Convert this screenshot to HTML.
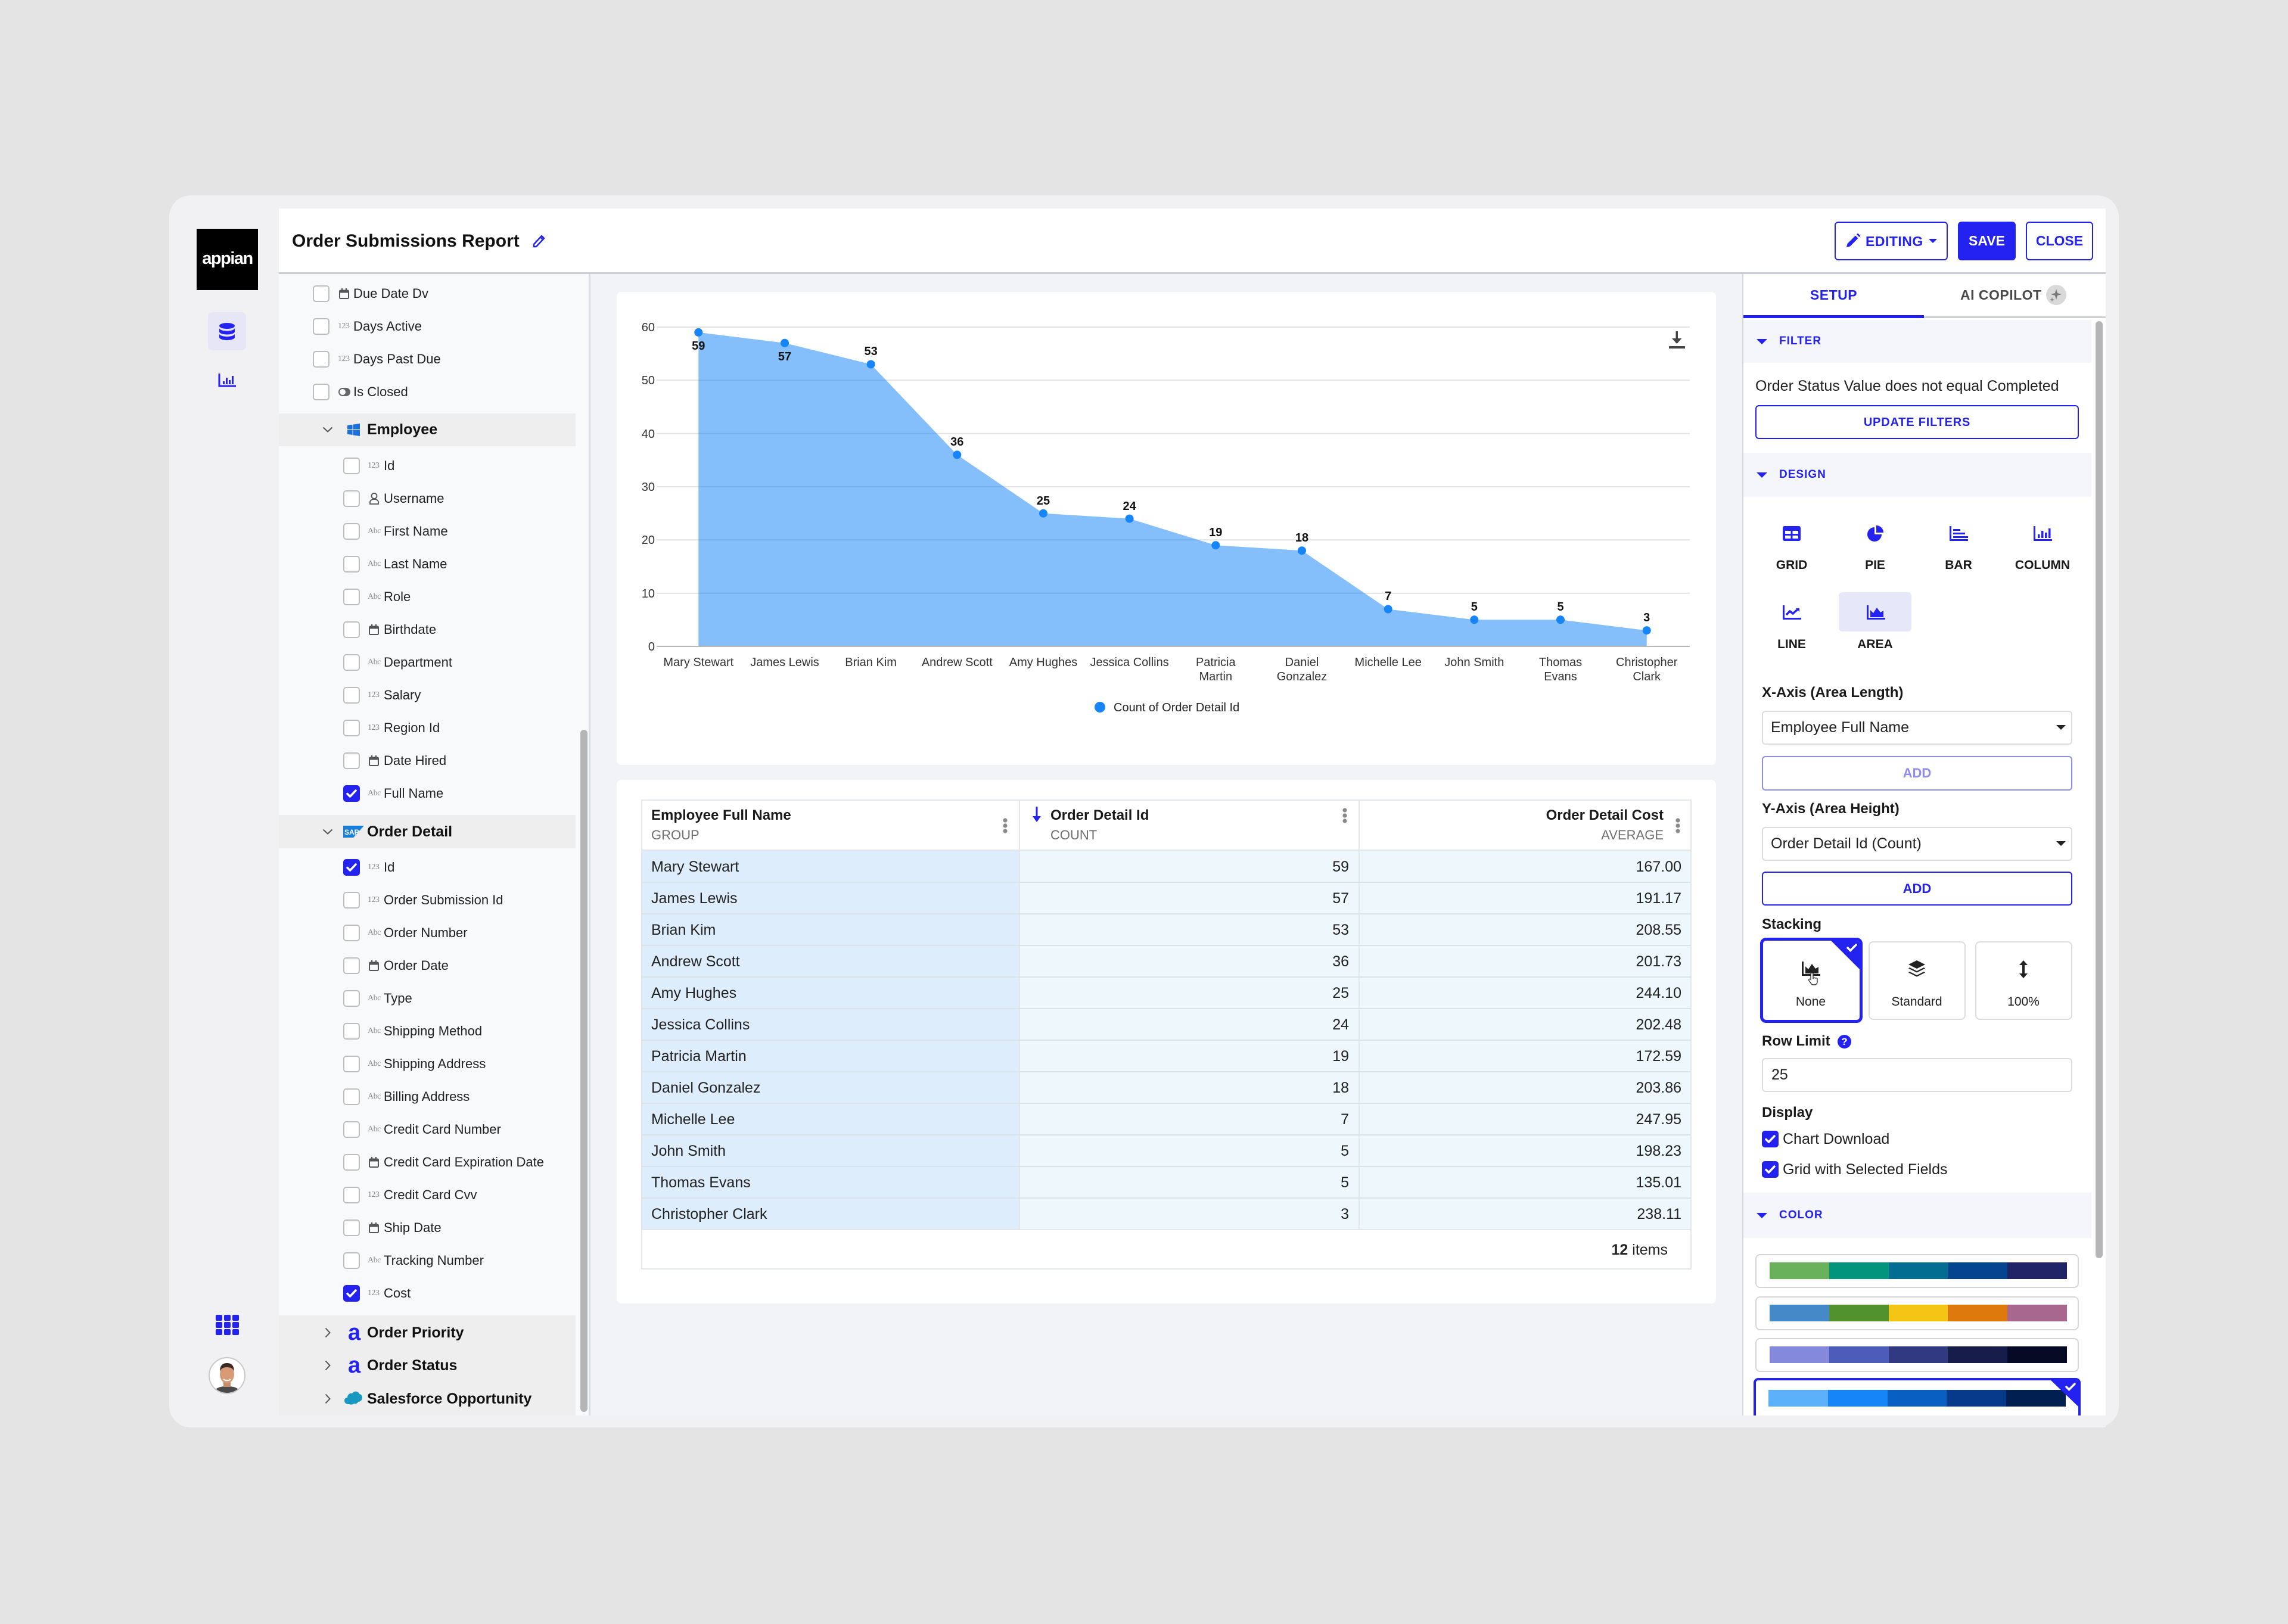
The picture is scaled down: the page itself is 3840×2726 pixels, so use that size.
<!DOCTYPE html>
<html><head><meta charset="utf-8"><title>Order Submissions Report</title>
<style>
*{margin:0;padding:0;box-sizing:border-box}
html,body{width:3840px;height:2726px}
body{background:#e4e4e4;font-family:"Liberation Sans",Arial,sans-serif;color:#222;position:relative;overflow:hidden}
.a{position:absolute}
.cb{position:absolute;width:28px;height:28px;border:2px solid #bdbdbd;border-radius:5px;background:#fff}
.cbk{position:absolute;width:28px;height:28px;border-radius:5px;background:#2322f0}
.ti{position:absolute;font:14px/20px "Liberation Serif",serif;color:#8a8a8a;letter-spacing:-0.5px;white-space:nowrap}
.ft{position:absolute;font:22px/30px "Liberation Sans",sans-serif;color:#222;white-space:nowrap}
.gh{position:absolute;font:bold 25px/32px "Liberation Sans",sans-serif;color:#111;white-space:nowrap}
.lbl{position:absolute;left:2957px;font:bold 24px/32px "Liberation Sans",sans-serif;color:#1a1a1a;white-space:nowrap}
.sec{position:absolute;left:2926px;width:584px;background:#f5f6fc}
.sect{position:absolute;left:2986px;font:bold 19px/26px "Liberation Sans",sans-serif;color:#2322f0;letter-spacing:1px}
.tri{position:absolute;left:2948px;width:0;height:0;border-left:9px solid transparent;border-right:9px solid transparent;border-top:9px solid #2322f0}
.tv{position:absolute;font:25px/34px "Liberation Sans",sans-serif;color:#222;white-space:nowrap}
.tvr{position:absolute;font:25px/34px "Liberation Sans",sans-serif;color:#222;white-space:nowrap;text-align:right}
.ic{position:absolute;font:bold 21px/28px "Liberation Sans",sans-serif;color:#1a1a1a;width:200px;text-align:center}
.hl{position:absolute;height:2px;background:#d9e3ea}
.btn{position:absolute;border:2px solid #2322f0;border-radius:6px;background:#fff;color:#2322f0;font:bold 23px/1 "Liberation Sans",sans-serif;display:flex;align-items:center;justify-content:center}
.sel{position:absolute;left:2957px;width:521px;height:57px;border:2px solid #dcdcdc;border-radius:6px;background:#fff}
.pal{position:absolute;left:2946px;width:543px;height:57px;border:2px solid #d6d6d6;border-radius:8px;background:#fff}
.strip{position:absolute;left:22px;top:12px;height:28px;width:499px;display:flex}
.strip i{flex:1;display:block}
</style></head><body>
<svg width="0" height="0" style="position:absolute">
<defs>
<symbol id="cal" viewBox="0 0 17 18"><rect x="1" y="3.5" width="15" height="13.5" rx="1.5" fill="none" stroke="#555" stroke-width="2"/><rect x="1" y="3.5" width="15" height="4" fill="#555"/><rect x="4" y="0" width="2.2" height="4.5" fill="#555"/><rect x="10.8" y="0" width="2.2" height="4.5" fill="#555"/></symbol>
<symbol id="chk" viewBox="0 0 28 28"><path d="M7 14.5l4.5 4.5 9.5-10" stroke="#fff" stroke-width="3.5" fill="none" stroke-linecap="round" stroke-linejoin="round"/></symbol>
<symbol id="cd" viewBox="0 0 18 10"><path d="M1.5 1.5l7.5 7 7.5-7" stroke="#555" stroke-width="2" fill="none"/></symbol>
<symbol id="cr" viewBox="0 0 10 18"><path d="M1.5 1.5l7 7.5-7 7.5" stroke="#555" stroke-width="2" fill="none"/></symbol>
<symbol id="kb" viewBox="0 0 8 26"><circle cx="4" cy="4" r="3.6" fill="#8a8a8a"/><circle cx="4" cy="13" r="3.6" fill="#8a8a8a"/><circle cx="4" cy="22" r="3.6" fill="#8a8a8a"/></symbol>
</defs></svg>

<!-- card -->
<div class="a" style="left:284px;top:328px;width:3272px;height:2068px;background:#f1f1f3;border-radius:36px"></div>
<!-- white content -->
<div class="a" style="left:468px;top:350px;width:3066px;height:2026px;background:#fff"></div>
<div class="a" style="left:468px;top:457px;width:3066px;height:3px;background:#c9cdd6"></div>

<!-- left nav -->
<div class="a" style="left:330px;top:384px;width:103px;height:103px;background:#000"></div>
<div class="a" style="left:330px;top:414px;width:103px;text-align:center;font:bold 29px/40px 'Liberation Sans',sans-serif;color:#fff;letter-spacing:-1.5px">appian</div>
<div class="a" style="left:349px;top:524px;width:64px;height:64px;background:#e6e6f7;border-radius:8px"></div>
<svg class="a" style="left:367px;top:542px" width="28" height="30" viewBox="0 0 28 30"><ellipse cx="14" cy="5" rx="13" ry="5" fill="#2322f0"/><path d="M1 8.5c0 3 6 5 13 5s13-2 13-5v6c0 3-6 5-13 5s-13-2-13-5z" fill="#2322f0"/><path d="M1 18c0 3 6 5 13 5s13-2 13-5v6c0 3-6 5-13 5s-13-2-13-5z" fill="#2322f0"/></svg>
<svg class="a" style="left:366px;top:627px" width="30" height="23" viewBox="0 0 30 23"><path d="M2 0v21h28" stroke="#2322f0" stroke-width="3" fill="none"/><rect x="8" y="13" width="3" height="5" fill="#2322f0"/><rect x="13" y="7" width="3" height="11" fill="#2322f0"/><rect x="18" y="11" width="3" height="7" fill="#2322f0"/><rect x="23" y="4" width="3" height="14" fill="#2322f0"/></svg>
<svg class="a" style="left:362px;top:2207px" width="39" height="34" viewBox="0 0 39 34"><g fill="#2322f0"><rect x="0" y="0" width="11" height="10" rx="2"/><rect x="14" y="0" width="11" height="10" rx="2"/><rect x="28" y="0" width="11" height="10" rx="2"/><rect x="0" y="12" width="11" height="10" rx="2"/><rect x="14" y="12" width="11" height="10" rx="2"/><rect x="28" y="12" width="11" height="10" rx="2"/><rect x="0" y="24" width="11" height="10" rx="2"/><rect x="14" y="24" width="11" height="10" rx="2"/><rect x="28" y="24" width="11" height="10" rx="2"/></g></svg>
<svg class="a" style="left:350px;top:2278px" width="62" height="62" viewBox="0 0 62 62"><defs><clipPath id="av"><circle cx="31" cy="31" r="29"/></clipPath></defs><circle cx="31" cy="31" r="30" fill="#fff" stroke="#c9c9c9" stroke-width="2"/><g clip-path="url(#av)"><path d="M8 62c2-10 10-13 23-13s21 3 23 13z" fill="#4a4a4a"/><rect x="25" y="40" width="12" height="10" fill="#c98b66"/><ellipse cx="31" cy="29" rx="12" ry="15" fill="#d79a75"/><path d="M19 24c0-10 5-14 12-14s12 4 12 14c-2-5-6-7-12-7s-10 2-12 7z" fill="#3b2c24"/><path d="M25 37c3 3 9 3 12 0" stroke="#fff" stroke-width="2" fill="none"/></g></svg>

<!-- header -->
<div class="a" style="left:490px;top:384px;font:bold 30px/42px 'Liberation Sans',sans-serif;color:#111;white-space:nowrap">Order Submissions Report</div>
<svg class="a" style="left:892px;top:392px" width="25" height="26" viewBox="0 0 25 26"><path d="M4 18L17 4l4 4L8 22H4z" fill="none" stroke="#2322f0" stroke-width="2.5" stroke-linejoin="round"/><path d="M15 6l4 4" stroke="#2322f0" stroke-width="2.5"/></svg>

<div class="btn" style="left:3079px;top:372px;width:190px;height:65px"></div>
<svg class="a" style="left:3097px;top:391px" width="26" height="26" viewBox="0 0 26 26"><path d="M2 24l1.5-6L17 4.5l4.5 4.5L8 22.5z" fill="#2322f0"/><path d="M19 2.5l2-2 4.5 4.5-2 2z" fill="#2322f0"/></svg>
<div class="a" style="left:3131px;top:389px;font:bold 23px/32px 'Liberation Sans',sans-serif;color:#2322f0;letter-spacing:0.5px">EDITING</div>
<div class="a" style="left:3237px;top:401px;width:0;height:0;border-left:7px solid transparent;border-right:7px solid transparent;border-top:7px solid #2322f0"></div>
<div class="btn" style="left:3286px;top:372px;width:97px;height:65px;background:#2322f0;color:#fff;border-color:#2322f0">SAVE</div>
<div class="btn" style="left:3400px;top:372px;width:113px;height:65px">CLOSE</div>

<!-- left field panel -->
<div class="a" style="left:468px;top:460px;width:520px;height:1916px;background:#f8f9fb"></div>
<div class="a" style="left:988px;top:460px;width:3px;height:1916px;background:#d9dce2"></div>
<div class="a" style="left:974px;top:1225px;width:12px;height:1145px;background:#b5b5b8;border-radius:6px"></div>

<!-- top-level fields -->
<div class="cb" style="left:525px;top:479px"></div><svg class="a" style="left:569px;top:484px" width="17" height="18"><use href="#cal"/></svg><div class="ft" style="left:593px;top:478px">Due Date Dv</div>
<div class="cb" style="left:525px;top:534px"></div><div class="ti" style="left:567px;top:538px">123</div><div class="ft" style="left:593px;top:533px">Days Active</div>
<div class="cb" style="left:525px;top:589px"></div><div class="ti" style="left:567px;top:593px">123</div><div class="ft" style="left:593px;top:588px">Days Past Due</div>
<div class="cb" style="left:525px;top:644px"></div><svg class="a" style="left:567px;top:650px" width="22" height="16" viewBox="0 0 22 16"><rect x="1" y="1" width="20" height="14" rx="7" fill="#666"/><circle cx="8" cy="8" r="5" fill="#fff"/></svg><div class="ft" style="left:593px;top:643px">Is Closed</div>

<!-- Employee -->
<div class="a" style="left:468px;top:694px;width:498px;height:55px;background:#eeeeee"></div>
<svg class="a" style="left:541px;top:716px" width="18" height="10"><use href="#cd"/></svg>
<svg class="a" style="left:583px;top:711px" width="21" height="21" viewBox="0 0 21 21"><path d="M0 3l8.5-1.2v8H0zM9.5 1.6L21 0v9.8H9.5zM0 11h8.5v8L0 17.8zM9.5 11H21v10l-11.5-1.6z" fill="#1b6fd8"/></svg>
<div class="gh" style="left:616px;top:705px">Employee</div>

<div class="cb" style="left:576px;top:768px"></div><div class="ti" style="left:617px;top:772px">123</div><div class="ft" style="left:644px;top:767px">Id</div>
<div class="cb" style="left:576px;top:823px"></div><svg class="a" style="left:620px;top:827px" width="16" height="20" viewBox="0 0 16 20"><circle cx="8" cy="5.5" r="4.5" fill="none" stroke="#555" stroke-width="1.8"/><path d="M1 19v-3c0-3 3-5 7-5s7 2 7 5v3z" fill="none" stroke="#555" stroke-width="1.8"/></svg><div class="ft" style="left:644px;top:822px">Username</div>
<div class="cb" style="left:576px;top:878px"></div><div class="ti" style="left:617px;top:882px">Abc</div><div class="ft" style="left:644px;top:877px">First Name</div>
<div class="cb" style="left:576px;top:933px"></div><div class="ti" style="left:617px;top:937px">Abc</div><div class="ft" style="left:644px;top:932px">Last Name</div>
<div class="cb" style="left:576px;top:988px"></div><div class="ti" style="left:617px;top:992px">Abc</div><div class="ft" style="left:644px;top:987px">Role</div>
<div class="cb" style="left:576px;top:1043px"></div><svg class="a" style="left:619px;top:1048px" width="17" height="18"><use href="#cal"/></svg><div class="ft" style="left:644px;top:1042px">Birthdate</div>
<div class="cb" style="left:576px;top:1098px"></div><div class="ti" style="left:617px;top:1102px">Abc</div><div class="ft" style="left:644px;top:1097px">Department</div>
<div class="cb" style="left:576px;top:1153px"></div><div class="ti" style="left:617px;top:1157px">123</div><div class="ft" style="left:644px;top:1152px">Salary</div>
<div class="cb" style="left:576px;top:1208px"></div><div class="ti" style="left:617px;top:1212px">123</div><div class="ft" style="left:644px;top:1207px">Region Id</div>
<div class="cb" style="left:576px;top:1263px"></div><svg class="a" style="left:619px;top:1268px" width="17" height="18"><use href="#cal"/></svg><div class="ft" style="left:644px;top:1262px">Date Hired</div>
<div class="cbk" style="left:576px;top:1318px"><svg width="28" height="28"><use href="#chk"/></svg></div><div class="ti" style="left:617px;top:1322px">Abc</div><div class="ft" style="left:644px;top:1317px">Full Name</div>

<!-- Order Detail -->
<div class="a" style="left:468px;top:1368px;width:498px;height:56px;background:#eeeeee"></div>
<svg class="a" style="left:541px;top:1391px" width="18" height="10"><use href="#cd"/></svg>
<svg class="a" style="left:576px;top:1386px" width="35" height="20" viewBox="0 0 35 20"><path d="M0 0h35L17 20H0z" fill="#1a7fd9"/><text x="2" y="15" font-family="Liberation Sans" font-weight="bold" font-size="12" fill="#fff">SAP</text></svg>
<div class="gh" style="left:616px;top:1380px">Order Detail</div>

<div class="cbk" style="left:576px;top:1442px"><svg width="28" height="28"><use href="#chk"/></svg></div><div class="ti" style="left:617px;top:1446px">123</div><div class="ft" style="left:644px;top:1441px">Id</div>
<div class="cb" style="left:576px;top:1497px"></div><div class="ti" style="left:617px;top:1501px">123</div><div class="ft" style="left:644px;top:1496px">Order Submission Id</div>
<div class="cb" style="left:576px;top:1552px"></div><div class="ti" style="left:617px;top:1556px">Abc</div><div class="ft" style="left:644px;top:1551px">Order Number</div>
<div class="cb" style="left:576px;top:1607px"></div><svg class="a" style="left:619px;top:1612px" width="17" height="18"><use href="#cal"/></svg><div class="ft" style="left:644px;top:1606px">Order Date</div>
<div class="cb" style="left:576px;top:1662px"></div><div class="ti" style="left:617px;top:1666px">Abc</div><div class="ft" style="left:644px;top:1661px">Type</div>
<div class="cb" style="left:576px;top:1717px"></div><div class="ti" style="left:617px;top:1721px">Abc</div><div class="ft" style="left:644px;top:1716px">Shipping Method</div>
<div class="cb" style="left:576px;top:1772px"></div><div class="ti" style="left:617px;top:1776px">Abc</div><div class="ft" style="left:644px;top:1771px">Shipping Address</div>
<div class="cb" style="left:576px;top:1827px"></div><div class="ti" style="left:617px;top:1831px">Abc</div><div class="ft" style="left:644px;top:1826px">Billing Address</div>
<div class="cb" style="left:576px;top:1882px"></div><div class="ti" style="left:617px;top:1886px">Abc</div><div class="ft" style="left:644px;top:1881px">Credit Card Number</div>
<div class="cb" style="left:576px;top:1937px"></div><svg class="a" style="left:619px;top:1942px" width="17" height="18"><use href="#cal"/></svg><div class="ft" style="left:644px;top:1936px">Credit Card Expiration Date</div>
<div class="cb" style="left:576px;top:1992px"></div><div class="ti" style="left:617px;top:1996px">123</div><div class="ft" style="left:644px;top:1991px">Credit Card Cvv</div>
<div class="cb" style="left:576px;top:2047px"></div><svg class="a" style="left:619px;top:2052px" width="17" height="18"><use href="#cal"/></svg><div class="ft" style="left:644px;top:2046px">Ship Date</div>
<div class="cb" style="left:576px;top:2102px"></div><div class="ti" style="left:617px;top:2106px">Abc</div><div class="ft" style="left:644px;top:2101px">Tracking Number</div>
<div class="cbk" style="left:576px;top:2157px"><svg width="28" height="28"><use href="#chk"/></svg></div><div class="ti" style="left:617px;top:2161px">123</div><div class="ft" style="left:644px;top:2156px">Cost</div>

<!-- collapsed groups -->
<div class="a" style="left:468px;top:2208px;width:498px;height:170px;background:#eeeeee"></div>
<svg class="a" style="left:545px;top:2228px" width="10" height="18"><use href="#cr"/></svg>
<div class="a" style="left:584px;top:2217px;font:bold 38px/40px 'Liberation Sans',sans-serif;color:#2322f0">a</div>
<div class="gh" style="left:616px;top:2221px">Order Priority</div>
<svg class="a" style="left:545px;top:2283px" width="10" height="18"><use href="#cr"/></svg>
<div class="a" style="left:584px;top:2272px;font:bold 38px/40px 'Liberation Sans',sans-serif;color:#2322f0">a</div>
<div class="gh" style="left:616px;top:2276px">Order Status</div>
<svg class="a" style="left:545px;top:2339px" width="10" height="18"><use href="#cr"/></svg>
<svg class="a" style="left:577px;top:2335px" width="32" height="24" viewBox="0 0 32 24"><path d="M8 22C3 22 1 19 1 16c0-3 2-5 5-5 0-5 4-8 8-7 2-3 5-4 8-3 3 1 4 3 4 4 3 0 5 3 5 6 0 4-3 7-7 7-1 3-4 4-7 3-2 2-6 2-8 1z" fill="#1798c1"/></svg>
<div class="gh" style="left:616px;top:2332px">Salesforce Opportunity</div>

<!-- main area -->
<div class="a" style="left:991px;top:460px;width:1933px;height:1916px;background:#f2f3f6"></div>
<div class="a" style="left:1035px;top:490px;width:1845px;height:794px;background:#fff;border-radius:8px"></div>
<div class="a" style="left:1035px;top:1309px;width:1845px;height:879px;background:#fff;border-radius:8px"></div>

<!-- chart -->
<svg class="a" style="left:1035px;top:490px" width="1845" height="794" viewBox="0 0 1845 794" font-family="Liberation Sans, Arial, sans-serif">
<g stroke="#e2e2e2" stroke-width="2">
<line x1="67" y1="59" x2="1801" y2="59"/>
<line x1="67" y1="148.3" x2="1801" y2="148.3"/>
<line x1="67" y1="237.7" x2="1801" y2="237.7"/>
<line x1="67" y1="327" x2="1801" y2="327"/>
<line x1="67" y1="416.3" x2="1801" y2="416.3"/>
<line x1="67" y1="505.7" x2="1801" y2="505.7"/>
</g>
<polygon fill="#1685f7" fill-opacity="0.53" points="137.3,595 137.3,67.9 282,85.8 426.6,121.5 571.3,273.4 716,371.7 860.6,380.6 1005.3,425.3 1150,434.2 1294.7,532.5 1439.3,550.3 1584,550.3 1728.7,568.2 1728.7,595"/>
<line x1="67" y1="595" x2="1801" y2="595" stroke="#b8b8b8" stroke-width="2"/>
<g fill="#1685f7">
<circle cx="137.3" cy="67.9" r="7"/><circle cx="282" cy="85.8" r="7"/><circle cx="426.6" cy="121.5" r="7"/><circle cx="571.3" cy="273.4" r="7"/><circle cx="716" cy="371.7" r="7"/><circle cx="860.6" cy="380.6" r="7"/><circle cx="1005.3" cy="425.3" r="7"/><circle cx="1150" cy="434.2" r="7"/><circle cx="1294.7" cy="532.5" r="7"/><circle cx="1439.3" cy="550.3" r="7"/><circle cx="1584" cy="550.3" r="7"/><circle cx="1728.7" cy="568.2" r="7"/>
</g>
<g font-size="20" fill="#333" text-anchor="end">
<text x="64" y="66">60</text><text x="64" y="155">50</text><text x="64" y="245">40</text><text x="64" y="334">30</text><text x="64" y="423">20</text><text x="64" y="513">10</text><text x="64" y="602">0</text>
</g>
<g font-size="20" font-weight="bold" fill="#111" text-anchor="middle">
<text x="137.3" y="97">59</text><text x="282" y="115">57</text><text x="426.6" y="106">53</text><text x="571.3" y="258">36</text><text x="716" y="357">25</text><text x="860.6" y="366">24</text><text x="1005.3" y="410">19</text><text x="1150" y="419">18</text><text x="1294.7" y="517">7</text><text x="1439.3" y="535">5</text><text x="1584" y="535">5</text><text x="1728.7" y="553">3</text>
</g>
<g font-size="20" fill="#333" text-anchor="middle">
<text x="137.3" y="628">Mary Stewart</text><text x="282" y="628">James Lewis</text><text x="426.6" y="628">Brian Kim</text><text x="571.3" y="628">Andrew Scott</text><text x="716" y="628">Amy Hughes</text><text x="860.6" y="628">Jessica Collins</text>
<text x="1005.3" y="628">Patricia</text><text x="1005.3" y="652">Martin</text>
<text x="1150" y="628">Daniel</text><text x="1150" y="652">Gonzalez</text>
<text x="1294.7" y="628">Michelle Lee</text><text x="1439.3" y="628">John Smith</text>
<text x="1584" y="628">Thomas</text><text x="1584" y="652">Evans</text>
<text x="1728.7" y="628">Christopher</text><text x="1728.7" y="652">Clark</text>
</g>
<circle cx="811" cy="697" r="9" fill="#1685f7"/>
<text x="834" y="704" font-size="20" fill="#222">Count of Order Detail Id</text>
<g fill="#444"><rect x="1777.5" y="66" width="3.5" height="20"/><path d="M1771 78l8.25 9 8.25-9z"/><rect x="1766" y="91" width="27" height="4"/></g>
</svg>

<!-- table -->
<div class="a" style="left:1076px;top:1342px;width:1763px;height:789px;border:2px solid #e3e6ea;background:#fff"></div>
<div class="a" style="left:1078px;top:1428px;width:633px;height:636px;background:#deedfc"></div>
<div class="a" style="left:1711px;top:1428px;width:1126px;height:636px;background:#eef8fc"></div>
<div class="a" style="left:1078px;top:1426px;width:1759px;height:2px;background:#e3e6ea"></div>
<div class="a" style="left:1710px;top:1344px;width:2px;height:720px;background:#e3e6ea"></div>
<div class="a" style="left:2280px;top:1344px;width:2px;height:720px;background:#e3e6ea"></div>
<div class="hl" style="left:1078px;top:1480px;width:1759px"></div>
<div class="hl" style="left:1078px;top:1533px;width:1759px"></div>
<div class="hl" style="left:1078px;top:1586px;width:1759px"></div>
<div class="hl" style="left:1078px;top:1639px;width:1759px"></div>
<div class="hl" style="left:1078px;top:1692px;width:1759px"></div>
<div class="hl" style="left:1078px;top:1745px;width:1759px"></div>
<div class="hl" style="left:1078px;top:1798px;width:1759px"></div>
<div class="hl" style="left:1078px;top:1851px;width:1759px"></div>
<div class="hl" style="left:1078px;top:1904px;width:1759px"></div>
<div class="hl" style="left:1078px;top:1957px;width:1759px"></div>
<div class="hl" style="left:1078px;top:2010px;width:1759px"></div>
<div class="a" style="left:1078px;top:2063px;width:1759px;height:2px;background:#e3e6ea"></div>

<div class="a" style="left:1093px;top:1353px;font:bold 24px/32px 'Liberation Sans',sans-serif;color:#1a1a1a;white-space:nowrap">Employee Full Name</div>
<div class="a" style="left:1093px;top:1388px;font:22px/28px 'Liberation Sans',sans-serif;color:#6e6e6e">GROUP</div>
<svg class="a" style="left:1683px;top:1373px" width="8" height="26"><use href="#kb"/></svg>
<svg class="a" style="left:1733px;top:1354px" width="14" height="28" viewBox="0 0 14 28"><rect x="5.5" y="0" width="3" height="20" fill="#2322f0"/><path d="M0 16l7 10 7-10z" fill="#2322f0"/></svg>
<div class="a" style="left:1763px;top:1353px;font:bold 24px/32px 'Liberation Sans',sans-serif;color:#1a1a1a;white-space:nowrap">Order Detail Id</div>
<div class="a" style="left:1763px;top:1388px;font:22px/28px 'Liberation Sans',sans-serif;color:#6e6e6e">COUNT</div>
<svg class="a" style="left:2253px;top:1356px" width="8" height="26"><use href="#kb"/></svg>
<div class="a" style="right:1048px;top:1353px;font:bold 24px/32px 'Liberation Sans',sans-serif;color:#1a1a1a;white-space:nowrap;text-align:right">Order Detail Cost</div>
<div class="a" style="right:1048px;top:1388px;font:22px/28px 'Liberation Sans',sans-serif;color:#6e6e6e;text-align:right">AVERAGE</div>
<svg class="a" style="left:2812px;top:1373px" width="8" height="26"><use href="#kb"/></svg>

<div class="tv" style="left:1093px;top:1438px">Mary Stewart</div><div class="tvr" style="right:1576px;top:1438px">59</div><div class="tvr" style="right:1018px;top:1438px">167.00</div>
<div class="tv" style="left:1093px;top:1491px">James Lewis</div><div class="tvr" style="right:1576px;top:1491px">57</div><div class="tvr" style="right:1018px;top:1491px">191.17</div>
<div class="tv" style="left:1093px;top:1544px">Brian Kim</div><div class="tvr" style="right:1576px;top:1544px">53</div><div class="tvr" style="right:1018px;top:1544px">208.55</div>
<div class="tv" style="left:1093px;top:1597px">Andrew Scott</div><div class="tvr" style="right:1576px;top:1597px">36</div><div class="tvr" style="right:1018px;top:1597px">201.73</div>
<div class="tv" style="left:1093px;top:1650px">Amy Hughes</div><div class="tvr" style="right:1576px;top:1650px">25</div><div class="tvr" style="right:1018px;top:1650px">244.10</div>
<div class="tv" style="left:1093px;top:1703px">Jessica Collins</div><div class="tvr" style="right:1576px;top:1703px">24</div><div class="tvr" style="right:1018px;top:1703px">202.48</div>
<div class="tv" style="left:1093px;top:1756px">Patricia Martin</div><div class="tvr" style="right:1576px;top:1756px">19</div><div class="tvr" style="right:1018px;top:1756px">172.59</div>
<div class="tv" style="left:1093px;top:1809px">Daniel Gonzalez</div><div class="tvr" style="right:1576px;top:1809px">18</div><div class="tvr" style="right:1018px;top:1809px">203.86</div>
<div class="tv" style="left:1093px;top:1862px">Michelle Lee</div><div class="tvr" style="right:1576px;top:1862px">7</div><div class="tvr" style="right:1018px;top:1862px">247.95</div>
<div class="tv" style="left:1093px;top:1915px">John Smith</div><div class="tvr" style="right:1576px;top:1915px">5</div><div class="tvr" style="right:1018px;top:1915px">198.23</div>
<div class="tv" style="left:1093px;top:1968px">Thomas Evans</div><div class="tvr" style="right:1576px;top:1968px">5</div><div class="tvr" style="right:1018px;top:1968px">135.01</div>
<div class="tv" style="left:1093px;top:2021px">Christopher Clark</div><div class="tvr" style="right:1576px;top:2021px">3</div><div class="tvr" style="right:1018px;top:2021px">238.11</div>
<div class="tvr" style="right:1041px;top:2081px"><b>12</b> items</div>

<!-- right panel -->
<div class="a" style="left:2924px;top:460px;width:610px;height:1916px;background:#fff"></div>
<div class="a" style="left:2924px;top:460px;width:2px;height:1916px;background:#d3d6dc"></div>
<div class="a" style="left:2926px;top:479px;width:303px;text-align:center;font:bold 23px/32px 'Liberation Sans',sans-serif;color:#2322f0;letter-spacing:0.5px">SETUP</div>
<div class="a" style="left:3290px;top:479px;font:bold 23px/32px 'Liberation Sans',sans-serif;color:#4a4a4a;letter-spacing:0.5px;white-space:nowrap">AI COPILOT</div>
<svg class="a" style="left:3434px;top:478px" width="34" height="34" viewBox="0 0 34 34"><circle cx="17" cy="17" r="17" fill="#d9d9d9"/><path d="M17 7l2 7 7 2-7 2-2 7-2-7-7-2 7-2z" fill="#777"/><path d="M10 21l1 3 3 1-3 1-1 3-1-3-3-1 3-1z" fill="#888"/></svg>
<div class="a" style="left:2926px;top:531px;width:608px;height:3px;background:#d0d0d0"></div>
<div class="a" style="left:2926px;top:529px;width:303px;height:5px;background:#2322f0"></div>
<div class="a" style="left:3517px;top:539px;width:12px;height:1573px;background:#b5b5b8;border-radius:6px"></div>

<div class="sec" style="top:537px;height:72px"></div>
<div class="tri" style="top:569px"></div>
<div class="sect" style="top:560px">FILTER</div>
<div class="a" style="left:2946px;top:632px;font:25px/32px 'Liberation Sans',sans-serif;color:#222;white-space:nowrap">Order Status Value does not equal Completed</div>
<div class="btn" style="left:2946px;top:680px;width:543px;height:57px;font-size:20px;letter-spacing:0.8px">UPDATE FILTERS</div>

<div class="sec" style="top:760px;height:74px"></div>
<div class="tri" style="top:793px"></div>
<div class="sect" style="top:784px">DESIGN</div>

<svg class="a" style="left:2992px;top:883px" width="30" height="25" viewBox="0 0 30 25"><rect width="30" height="25" rx="3" fill="#2322f0"/><rect x="4" y="8" width="9.5" height="5" fill="#fff"/><rect x="16.5" y="8" width="9.5" height="5" fill="#fff"/><rect x="4" y="16" width="9.5" height="5" fill="#fff"/><rect x="16.5" y="16" width="9.5" height="5" fill="#fff"/></svg>
<svg class="a" style="left:3133px;top:881px" width="30" height="28" viewBox="0 0 30 28"><path d="M13 4A12 12 0 1 0 25 16H13z" fill="#2322f0"/><path d="M16 1a12 12 0 0 1 12 12H16z" fill="#2322f0"/></svg>
<svg class="a" style="left:3272px;top:883px" width="31" height="25" viewBox="0 0 31 25"><path d="M1.5 0v23.5H31" stroke="#2322f0" stroke-width="3" fill="none"/><rect x="6" y="5" width="12" height="3" fill="#2322f0"/><rect x="6" y="11" width="20" height="3" fill="#2322f0"/><rect x="6" y="17" width="25" height="3" fill="#2322f0"/></svg>
<svg class="a" style="left:3413px;top:883px" width="31" height="25" viewBox="0 0 31 25"><path d="M1.5 0v23.5H31" stroke="#2322f0" stroke-width="3" fill="none"/><rect x="7" y="14" width="3.5" height="6" fill="#2322f0"/><rect x="13" y="8" width="3.5" height="12" fill="#2322f0"/><rect x="19" y="11" width="3.5" height="9" fill="#2322f0"/><rect x="25" y="4" width="3.5" height="16" fill="#2322f0"/></svg>
<div class="ic" style="left:2907px;top:935px">GRID</div>
<div class="ic" style="left:3047px;top:935px">PIE</div>
<div class="ic" style="left:3187px;top:935px">BAR</div>
<div class="ic" style="left:3328px;top:935px">COLUMN</div>

<div class="a" style="left:3086px;top:994px;width:122px;height:66px;background:#e6e8fa;border-radius:6px"></div>
<svg class="a" style="left:2992px;top:1016px" width="31" height="24" viewBox="0 0 31 24"><path d="M1.5 0v22.5H31" stroke="#2322f0" stroke-width="3" fill="none"/><path d="M6 16l6-6 5 4 9-8" stroke="#2322f0" stroke-width="3.5" fill="none"/><path d="M22 5h6v6z" fill="#2322f0"/></svg>
<svg class="a" style="left:3133px;top:1016px" width="31" height="24" viewBox="0 0 31 24"><path d="M1.5 0v22.5H31" stroke="#2322f0" stroke-width="3" fill="none"/><path d="M6 20V8l5 5 6-9 6 8 5-3v11z" fill="#2322f0"/></svg>
<div class="ic" style="left:2907px;top:1068px">LINE</div>
<div class="ic" style="left:3047px;top:1068px">AREA</div>

<div class="lbl" style="top:1147px">X-Axis (Area Length)</div>
<div class="sel" style="top:1193px"></div>
<div class="a" style="left:2972px;top:1205px;font:25px/32px 'Liberation Sans',sans-serif;color:#222;white-space:nowrap">Employee Full Name</div>
<div class="a" style="left:3451px;top:1217px;width:0;height:0;border-left:8px solid transparent;border-right:8px solid transparent;border-top:8px solid #222"></div>
<div class="btn" style="left:2957px;top:1269px;width:521px;height:58px;border-color:#8d8cf5;color:#8d8cf5;font-size:22px">ADD</div>
<div class="lbl" style="top:1342px">Y-Axis (Area Height)</div>
<div class="sel" style="top:1388px"></div>
<div class="a" style="left:2972px;top:1400px;font:25px/32px 'Liberation Sans',sans-serif;color:#222;white-space:nowrap">Order Detail Id (Count)</div>
<div class="a" style="left:3451px;top:1412px;width:0;height:0;border-left:8px solid transparent;border-right:8px solid transparent;border-top:8px solid #222"></div>
<div class="btn" style="left:2957px;top:1463px;width:521px;height:57px;font-size:22px">ADD</div>

<div class="lbl" style="top:1536px">Stacking</div>
<div class="a" style="left:2954px;top:1574px;width:172px;height:143px;border:5px solid #2322f0;border-radius:10px;background:#fff;overflow:hidden"><div class="a" style="right:0;top:0;width:0;height:0;border-top:48px solid #2322f0;border-left:48px solid transparent"></div><svg class="a" style="right:3px;top:3px" width="20" height="18" viewBox="0 0 20 18"><path d="M3 9l4.5 4.5L17 4" stroke="#fff" stroke-width="3.5" fill="none" stroke-linecap="round"/></svg></div>
<div class="a" style="left:3136px;top:1580px;width:163px;height:132px;border:2px solid #dcdcdc;border-radius:8px;background:#fff"></div>
<div class="a" style="left:3315px;top:1580px;width:163px;height:132px;border:2px solid #dcdcdc;border-radius:8px;background:#fff"></div>
<svg class="a" style="left:3024px;top:1614px" width="31" height="24" viewBox="0 0 31 24"><path d="M1.5 0v22.5H31" stroke="#222" stroke-width="3" fill="none"/><path d="M6 20V8l5 5 6-9 6 8 5-3v11z" fill="#222"/></svg>
<svg class="a" style="left:3034px;top:1632px" width="18" height="22" viewBox="0 0 18 22"><path d="M5 12V3a2 2 0 0 1 4 0v7h1a2 2 0 0 1 3 0 2 2 0 0 1 3 1v5c0 3-2 5-5 5H9c-2 0-3-1-4-3l-3-4a1.5 1.5 0 0 1 3-2z" fill="#fff" stroke="#333" stroke-width="1.4"/></svg>
<svg class="a" style="left:3202px;top:1611px" width="30" height="30" viewBox="0 0 30 30"><path d="M15 1l14 7-14 7-14-7z" fill="#222"/><path d="M3 13l12 6 12-6 2 1.5-14 7-14-7z" fill="#222"/><path d="M3 20l12 6 12-6 2 1.5-14 7-14-7z" fill="#222"/></svg>
<svg class="a" style="left:3388px;top:1612px" width="16" height="30" viewBox="0 0 16 30"><path d="M8 0l7 8H10v14h5l-7 8-7-8h5V8H1z" fill="#222"/></svg>
<div class="a" style="left:2989px;top:1668px;width:100px;text-align:center;font:21px/28px 'Liberation Sans',sans-serif;color:#222">None</div>
<div class="a" style="left:3167px;top:1668px;width:100px;text-align:center;font:21px/28px 'Liberation Sans',sans-serif;color:#222">Standard</div>
<div class="a" style="left:3346px;top:1668px;width:100px;text-align:center;font:21px/28px 'Liberation Sans',sans-serif;color:#222">100%</div>

<div class="lbl" style="top:1732px">Row Limit</div>
<div class="a" style="left:3084px;top:1737px;width:23px;height:23px;border-radius:50%;background:#2322f0;color:#fff;font:bold 17px/23px 'Liberation Sans',sans-serif;text-align:center">?</div>
<div class="sel" style="top:1776px"></div>
<div class="a" style="left:2973px;top:1788px;font:25px/32px 'Liberation Sans',sans-serif;color:#222">25</div>

<div class="lbl" style="top:1852px">Display</div>
<div class="cbk" style="left:2957px;top:1898px"><svg width="28" height="28"><use href="#chk"/></svg></div>
<div class="a" style="left:2992px;top:1896px;font:25px/32px 'Liberation Sans',sans-serif;color:#222;white-space:nowrap">Chart Download</div>
<div class="cbk" style="left:2957px;top:1949px"><svg width="28" height="28"><use href="#chk"/></svg></div>
<div class="a" style="left:2992px;top:1947px;font:25px/32px 'Liberation Sans',sans-serif;color:#222;white-space:nowrap">Grid with Selected Fields</div>

<div class="sec" style="top:2002px;height:76px"></div>
<div class="tri" style="top:2036px"></div>
<div class="sect" style="top:2027px">COLOR</div>

<div class="pal" style="top:2105px"><div class="strip"><i style="background:#6ab15c"></i><i style="background:#03957c"></i><i style="background:#036d91"></i><i style="background:#05458f"></i><i style="background:#1e2466"></i></div></div>
<div class="pal" style="top:2176px"><div class="strip"><i style="background:#4689c9"></i><i style="background:#52922e"></i><i style="background:#f5c515"></i><i style="background:#de790e"></i><i style="background:#a7678e"></i></div></div>
<div class="pal" style="top:2246px"><div class="strip"><i style="background:#8489dc"></i><i style="background:#4d5cb8"></i><i style="background:#313a80"></i><i style="background:#161d4a"></i><i style="background:#060a24"></i></div></div>
<div class="pal" style="left:2943px;top:2313px;width:549px;height:70px;border:4px solid #2322f0;overflow:hidden"><div class="strip" style="left:21px;top:16px"><i style="background:#5cb0f9"></i><i style="background:#1685f7"></i><i style="background:#0a5fc2"></i><i style="background:#063a8a"></i><i style="background:#021f52"></i></div><div class="a" style="right:0;top:0;width:0;height:0;border-top:44px solid #2322f0;border-left:46px solid transparent"></div><svg class="a" style="right:3px;top:2px" width="20" height="18" viewBox="0 0 20 18"><path d="M3 9l4.5 4.5L17 4" stroke="#fff" stroke-width="3.5" fill="none" stroke-linecap="round"/></svg></div>

<!-- bottom clip strip -->
<div class="a" style="left:468px;top:2376px;width:3066px;height:20px;background:#f1f1f3"></div>
</body></html>
